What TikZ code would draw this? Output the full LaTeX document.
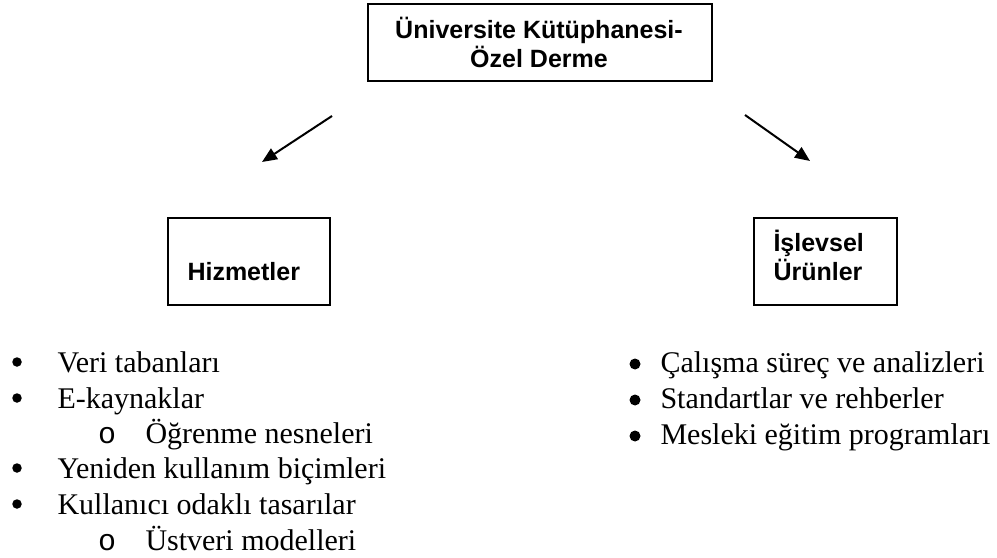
\documentclass[tikz,border=0pt]{standalone}
\usepackage{fontspec}
\setmainfont{Liberation Serif}
\newfontfamily\boxfont{Liberation Sans}
\newfontfamily\subfont{Liberation Mono}
\usetikzlibrary{arrows.meta}
\begin{document}
\begin{tikzpicture}[x=0.4pt,y=-0.4pt,
  framebox/.style={draw,line width=0.75pt,inner sep=0pt,anchor=north west},
  boxtext/.style={font=\boxfont\bfseries\fontsize{10}{11.6}\selectfont,inner sep=0pt,anchor=base west},
  item/.style={font=\fontsize{12}{14}\selectfont,inner sep=0pt,anchor=base west},
  subbul/.style={font=\subfont\fontsize{12}{14}\selectfont,inner sep=0pt,anchor=base},
  ldot/.style={circle,fill,inner sep=0pt,minimum size=3.8pt},
  rdot/.style={circle,fill,inner sep=0pt,minimum size=4.4pt},
  arr/.style={line width=0.8pt,-{Triangle[length=6pt,width=5pt]}}]
\useasboundingbox (0,0) rectangle (997,558);
% boxes
\node[framebox,minimum width=137.6pt,minimum height=30.8pt] (top) at (367,3) {};
\node[framebox,minimum width=64.8pt,minimum height=34.8pt] (hbox) at (167,217) {};
\node[framebox,minimum width=57.2pt,minimum height=34.8pt] (ibox) at (753,217) {};
% box texts
\node[boxtext,anchor=base] (t1) at (539,39) {Üniversite Kütüphanesi-};
\node[boxtext,anchor=base] (t2) at (539,68) {Özel Derme};
\node[boxtext] (h) at (187,281) {Hizmetler};
\node[boxtext] (i1) at (773,252) {İşlevsel};
\node[boxtext] (i2) at (773,281) {Ürünler};
% arrows
\coordinate (a1s) at (332,116);
\coordinate (a1e) at (262,162);
\coordinate (a2s) at (745,115);
\coordinate (a2e) at (810,161);
\draw[arr] (a1s) -- (a1e);
\draw[arr] (a2s) -- (a2e);
% left list
\node[ldot] (lb1) at (17,362) {};
\node[item] (l1) at (57,372) {Veri tabanları};
\node[ldot] (lb2) at (17,398) {};
\node[item] (l2) at (57,408) {E-kaynaklar};
\node[subbul] (ls1) at (107,443) {o};
\node[item] (l3) at (145,443) {Öğrenme nesneleri};
\node[ldot] (lb3) at (17,468) {};
\node[item] (l4) at (57,478) {Yeniden kullanım biçimleri};
\node[ldot] (lb4) at (17,504) {};
\node[item] (l5) at (57,514) {Kullanıcı odaklı tasarılar};
\node[subbul] (ls2) at (107,550) {o};
\node[item] (l6) at (145,550) {Üstveri modelleri};
% right list
\node[rdot] (rb1) at (635,364) {};
\node[item] (r1) at (660,372) {Çalışma süreç ve analizleri};
\node[rdot] (rb2) at (635,400) {};
\node[item] (r2) at (660,408) {Standartlar ve rehberler};
\node[rdot] (rb3) at (635,436) {};
\node[item] (r3) at (660,444) {Mesleki eğitim programları};
\end{tikzpicture}
\end{document}
